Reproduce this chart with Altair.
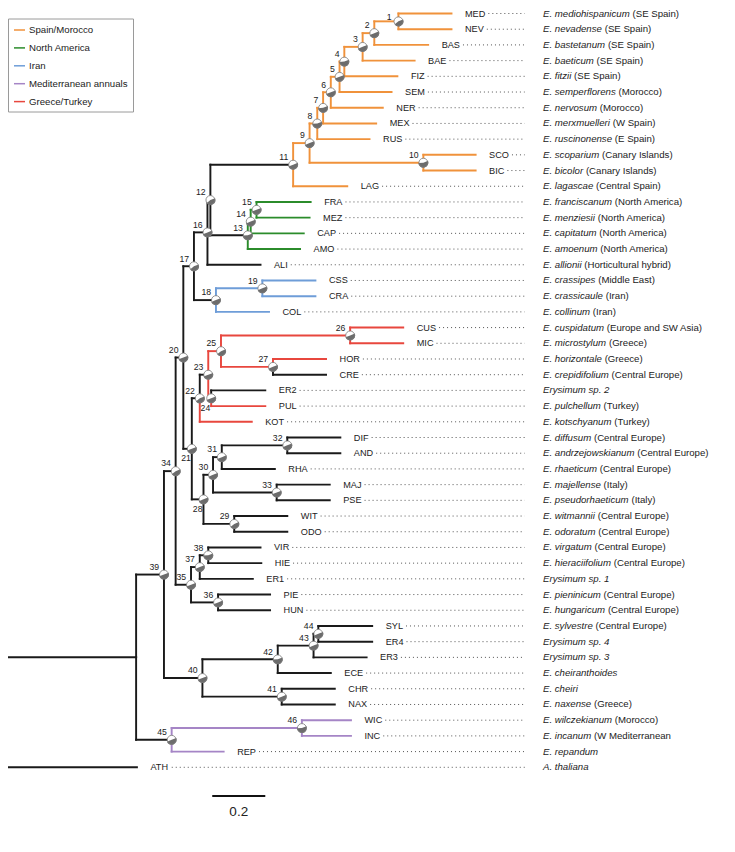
import math
import altair as alt
import pandas as pd

# ---------------- data ----------------
tip_codes = ["MED", "NEV", "BAS", "BAE", "FIZ", "SEM", "NER", "MEX", "RUS", "SCO", "BIC", "LAG",
             "FRA", "MEZ", "CAP", "AMO", "ALI", "CSS", "CRA", "COL", "CUS", "MIC", "HOR", "CRE",
             "ER2", "PUL", "KOT", "DIF", "AND", "RHA", "MAJ", "PSE", "WIT", "ODO", "VIR", "HIE",
             "ER1", "PIE", "HUN", "SYL", "ER4", "ER3", "ECE", "CHR", "NAX", "WIC", "INC", "REP", "ATH"]

# root-to-tip distance (substitutions/site)
tip_depth = [1.684, 1.684, 1.596, 1.545, 1.480, 1.458, 1.425, 1.400, 1.375, 1.775, 1.775, 1.291,
             1.153, 1.149, 1.127, 1.113, 0.964, 1.171, 1.171, 0.996, 1.502, 1.502, 1.211, 1.211,
             0.982, 0.982, 0.931, 1.265, 1.265, 1.018, 1.225, 1.225, 1.065, 1.065, 0.964, 0.967,
             0.935, 1.000, 1.000, 1.385, 1.385, 1.364, 1.229, 1.244, 1.244, 1.305, 1.305, 0.825, 0.498]

species_italic = ["E. mediohispanicum", "E. nevadense", "E. bastetanum", "E. baeticum", "E. fitzii",
                  "E. semperflorens", "E. nervosum", "E. merxmuelleri", "E. ruscinonense", "E. scoparium",
                  "E. bicolor", "E. lagascae", "E. franciscanum", "E. menziesii", "E. capitatum",
                  "E. amoenum", "E. allionii", "E. crassipes", "E. crassicaule", "E. collinum",
                  "E. cuspidatum", "E. microstylum", "E. horizontale", "E. crepidifolium", "Erysimum sp. 2",
                  "E. pulchellum", "E. kotschyanum", "E. diffusum", "E. andrzejowskianum", "E. rhaeticum",
                  "E. majellense", "E. pseudorhaeticum", "E. witmannii", "E. odoratum", "E. virgatum",
                  "E. hieraciifolium", "Erysimum sp. 1", "E. pieninicum", "E. hungaricum", "E. sylvestre",
                  "Erysimum sp. 4", "Erysimum sp. 3", "E. cheiranthoides", "E. cheiri", "E. naxense",
                  "E. wilczekianum", "E. incanum", "E. repandum", "A. thaliana"]

species_plain = ["(SE Spain)", "(SE Spain)", "(SE Spain)", "(SE Spain)", "(SE Spain)",
                 "(Morocco)", "(Morocco)", "(W Spain)", "(E Spain)", "(Canary Islands)",
                 "(Canary Islands)", "(Central Spain)", "(North America)", "(North America)", "(North America)",
                 "(North America)", "(Horticultural hybrid)", "(Middle East)", "(Iran)", "(Iran)",
                 "(Europe and SW Asia)", "(Greece)", "(Greece)", "(Central Europe)", "",
                 "(Turkey)", "(Turkey)", "(Central Europe)", "(Central Europe)", "(Central Europe)",
                 "(Italy)", "(Italy)", "(Central Europe)", "(Central Europe)", "(Central Europe)",
                 "(Central Europe)", "", "(Central Europe)", "(Central Europe)", "(Central Europe)",
                 "", "", "", "", "(Greece)",
                 "(Morocco)", "(W Mediterranean", "", ""]

# internal nodes: id, root distance
node_ids = ["R", "N0", "39", "34", "20", "17", "16", "12", "11", "9", "8", "7", "6", "5", "4", "3",
            "2", "1", "10", "13", "14", "15", "18", "19", "21", "22", "23", "24", "25", "26", "27",
            "28", "29", "30", "31", "32", "33", "35", "36", "37", "38", "40", "41", "42", "43", "44",
            "45", "46"]
node_depth = [0.000, 0.495, 0.600, 0.644, 0.673, 0.713, 0.764, 0.775, 1.087, 1.149, 1.178, 1.200,
              1.229, 1.262, 1.280, 1.349, 1.393, 1.484, 1.578, 0.916, 0.927, 0.949, 0.796, 0.971,
              0.705, 0.735, 0.767, 0.778, 0.815, 1.302, 1.011, 0.749, 0.865, 0.785, 0.818, 1.065,
              1.025, 0.702, 0.804, 0.735, 0.767, 0.745, 1.044, 1.029, 1.164, 1.182, 0.629, 1.120]

# topology: children listed top to bottom
children = {
    "R": ["N0", "ATH"], "N0": ["39", "45"], "39": ["34", "40"], "34": ["20", "35"],
    "20": ["17", "21"], "17": ["16", "18"], "16": ["12", "ALI"], "12": ["11", "13"],
    "11": ["9", "LAG"], "9": ["8", "10"], "8": ["7", "RUS"], "7": ["6", "MEX"],
    "6": ["5", "NER"], "5": ["4", "SEM"], "4": ["3", "FIZ"], "3": ["2", "BAE"],
    "2": ["1", "BAS"], "1": ["MED", "NEV"], "10": ["SCO", "BIC"],
    "13": ["14", "AMO"], "14": ["15", "CAP"], "15": ["FRA", "MEZ"],
    "18": ["19", "COL"], "19": ["CSS", "CRA"],
    "21": ["22", "28"], "22": ["23", "KOT"], "23": ["25", "24"], "25": ["26", "27"],
    "26": ["CUS", "MIC"], "27": ["HOR", "CRE"], "24": ["ER2", "PUL"],
    "28": ["30", "29"], "30": ["31", "33"], "31": ["32", "RHA"], "32": ["DIF", "AND"],
    "33": ["MAJ", "PSE"], "29": ["WIT", "ODO"],
    "35": ["37", "36"], "37": ["38", "ER1"], "38": ["VIR", "HIE"], "36": ["PIE", "HUN"],
    "40": ["42", "41"], "42": ["43", "ECE"], "43": ["44", "ER3"], "44": ["SYL", "ER4"],
    "41": ["CHR", "NAX"], "45": ["46", "REP"], "46": ["WIC", "INC"],
}

# numbered nodes with their pie (fraction shaded grey)
pie_nodes = [str(i) for i in range(1, 47)]
pie_grey = [0.45, 0.50, 0.50, 0.55, 0.50, 0.50, 0.55, 0.55, 0.50, 0.55, 0.50, 0.45, 0.55, 0.50,
            0.50, 0.50, 0.45, 0.50, 0.50, 0.50, 0.50, 0.45, 0.50, 0.50, 0.45, 0.50, 0.50, 0.50,
            0.45, 0.50, 0.50, 0.50, 0.50, 0.45, 0.50, 0.50, 0.50, 0.55, 0.50, 0.50, 0.50, 0.55,
            0.50, 0.50, 0.50, 0.55]
labels_below = ["21", "24", "28"]
labels_left = ["1"]

region_names = ["Spain/Morocco", "North America", "Iran", "Mediterranean annuals", "Greece/Turkey"]
region_colors = ["#F0923B", "#2B8C2B", "#6E9DD8", "#A585C6", "#E8473E"]
region_edges = {
    "Spain/Morocco": ["9", "LAG", "8", "10", "7", "RUS", "6", "MEX", "5", "NER", "4", "SEM", "3",
                      "FIZ", "2", "BAE", "1", "BAS", "MED", "NEV", "SCO", "BIC"],
    "North America": ["14", "AMO", "15", "CAP", "FRA", "MEZ"],
    "Iran": ["19", "COL", "CSS", "CRA"],
    "Mediterranean annuals": ["46", "REP", "WIC", "INC"],
    "Greece/Turkey": ["25", "24", "26", "27", "CUS", "MIC", "HOR", "PUL", "KOT"],
}

scale_bar_start = [0.782]
scale_bar_length = [0.2]
scale_bar_text = ["0.2"]

# ---------------- layout helpers ----------------
S = 0.9645                 # reference measured at 1/S scale
PX_ROOT = 5.0              # root x (measurement space)
PX_PER_UNIT = 275.0        # px per unit (measurement space)
W, H = 719, 836
Y_FIRST = 13.5             # page y of first tip
Y_LAST = 767.3             # page y of last tip
ROW = (Y_LAST - Y_FIRST) / (len(tip_codes) - 1)
FONT = "Liberation Sans"


def u(px_meas):
    return (px_meas - PX_ROOT) / PX_PER_UNIT


def yi(page_y):
    return (page_y - Y_FIRST) / ROW


AW = {" ": 278, ".": 278, "(": 333, ")": 333, ",": 278, "-": 333, "/": 278,
      "A": 667, "B": 667, "C": 722, "D": 722, "E": 667, "F": 611, "G": 778, "H": 722, "I": 278,
      "J": 500, "K": 667, "L": 556, "M": 833, "N": 722, "O": 778, "P": 667, "Q": 778, "R": 722,
      "S": 667, "T": 611, "U": 722, "V": 667, "W": 944, "X": 667, "Y": 667, "Z": 611,
      "a": 556, "b": 556, "c": 500, "d": 556, "e": 556, "f": 278, "g": 556, "h": 556, "i": 222,
      "j": 222, "k": 500, "l": 222, "m": 833, "n": 556, "o": 556, "p": 556, "q": 556, "r": 333,
      "s": 500, "t": 278, "u": 556, "v": 500, "w": 722, "x": 500, "y": 500, "z": 500}


def tw(s, size):
    return sum(AW.get(c, 556) for c in s) * size / 1000.0


FS_TIP = 9.5 * S
FS_SP = 10 * S
FS_NODE = 9 * S

depth = dict(zip(node_ids, node_depth))
depth.update(dict(zip(tip_codes, tip_depth)))
ypos = {c: i for i, c in enumerate(tip_codes)}


def gety(n):
    if n in ypos:
        return ypos[n]
    ys_ = [gety(c) for c in children[n]]
    ypos[n] = (ys_[0] + ys_[-1]) / 2.0
    return ypos[n]


gety("R")

region_of = {}
for r, members in region_edges.items():
    for m in members:
        region_of[m] = r

seg_rows = []
for p, chs in children.items():
    for c in chs:
        reg = region_of.get(c, "none")
        seg_rows.append(dict(x=depth[p], x2=depth[p], y=ypos[p], y2=ypos[c], region=reg))
        seg_rows.append(dict(x=depth[p], x2=depth[c], y=ypos[c], y2=ypos[c], region=reg))
seg_rows.append(dict(x=-0.03, x2=0.0, y=ypos["R"], y2=ypos["R"], region="none"))
seg = pd.DataFrame(seg_rows)
seg["order"] = (seg["region"] != "none").astype(int)
seg = seg.sort_values("order")

START = 1.2
pies = pd.DataFrame({
    "node": pie_nodes,
    "x": [depth[n] for n in pie_nodes],
    "y": [ypos[n] for n in pie_nodes],
    "t0": [START] * len(pie_nodes),
    "t1": [START + g * 2 * math.pi for g in pie_grey],
    "pos": ["below" if n in labels_below else ("left" if n in labels_left else "above")
            for n in pie_nodes],
})

tips = pd.DataFrame({
    "code": tip_codes,
    "x": tip_depth,
    "y": list(range(len(tip_codes))),
    "it": species_italic,
    "pl": species_plain,
})
tips["dot0"] = [d + (14 + (tw(c, FS_TIP) + 3) / S) / PX_PER_UNIT for d, c in zip(tip_depth, tip_codes)]
tips["dot1"] = u(544)
tips["sx"] = u(563)
tips["rx"] = [u(563) + tw(s + " ", FS_SP) / S / PX_PER_UNIT for s in species_italic]

bar = pd.DataFrame({
    "x": scale_bar_start,
    "x2": [a + b for a, b in zip(scale_bar_start, scale_bar_length)],
    "xm": [a + b / 2 for a, b in zip(scale_bar_start, scale_bar_length)],
    "y": [yi(796.0)],
    "yt": [yi(812.0)],
    "t": scale_bar_text,
})

# ---------------- scales ----------------
xs = alt.Scale(domain=[u(8 / S), u((8 + W) / S)], nice=False, zero=False)
ys = alt.Scale(domain=[yi(8), yi(8 + H)], nice=False, zero=False, reverse=True)
X = lambda f: alt.X(f, type="quantitative", scale=xs, axis=None)
Y = lambda f: alt.Y(f, type="quantitative", scale=ys, axis=None)

color = alt.Color(
    "region:N",
    scale=alt.Scale(domain=region_names + ["none"], range=region_colors + ["#1a1a1a"]),
    legend=alt.Legend(
        orient="none", legendX=0, legendY=10.5, title=None, values=region_names,
        symbolType="stroke", symbolSize=121, symbolStrokeWidth=1.5, labelFontSize=FS_SP,
        labelFont=FONT, labelColor="#222222", padding=5, strokeColor="#9a9a9a",
        fillColor="white", rowPadding=5.9, labelOffset=3, cornerRadius=0,
    ),
)

SW = 2 * S
edges = alt.Chart(seg).mark_rule(strokeWidth=SW, strokeCap="square").encode(
    x=X("x"), x2="x2", y=Y("y"), y2="y2", color=color
)

R_PIE = 5.2 * S
SIZE_PIE = math.pi * R_PIE * R_PIE
pie_bg = alt.Chart(pies).mark_circle(size=SIZE_PIE, color="white", opacity=1).encode(x=X("x"), y=Y("y"))
pie_wedge = alt.Chart(pies).mark_arc(outerRadius=R_PIE, color="#6c6c6c").encode(
    x=X("x"), y=Y("y"),
    theta=alt.Theta("t0:Q", scale=None, stack=None),
    theta2="t1",
)
pie_ring = alt.Chart(pies).mark_point(shape="circle", size=SIZE_PIE, filled=False, color="#7a7a7a",
                                      strokeWidth=0.8, opacity=1).encode(x=X("x"), y=Y("y"))


def node_labels(pos, dx, dy):
    return alt.Chart(pies).transform_filter(f"datum.pos == '{pos}'").mark_text(
        align="right", baseline="middle", dx=dx, dy=dy, fontSize=FS_NODE, font=FONT, color="#222222"
    ).encode(x=X("x"), y=Y("y"), text="node:N")


lab_above = node_labels("above", -5 * S, -8 * S)
lab_below = node_labels("below", -1 * S, 10 * S)
lab_left = node_labels("left", -7 * S, -4)

tip_lab = alt.Chart(tips).mark_text(
    align="left", baseline="middle", dx=14 * S, fontSize=FS_TIP, font=FONT, color="#222222"
).encode(x=X("x"), y=Y("y"), text="code:N")

dots = alt.Chart(tips).mark_rule(strokeWidth=1, strokeDash=[1, 3], color="#555555").encode(
    x=X("dot0"), x2="dot1", y=Y("y")
)

sp_it = alt.Chart(tips).mark_text(
    align="left", baseline="middle", fontSize=FS_SP, font=FONT, fontStyle="italic", color="#222222"
).encode(x=X("sx"), y=Y("y"), text="it:N")
sp_pl = alt.Chart(tips).mark_text(
    align="left", baseline="middle", fontSize=FS_SP, font=FONT, color="#222222"
).encode(x=X("rx"), y=Y("y"), text="pl:N")

bar_rule = alt.Chart(bar).mark_rule(strokeWidth=SW, color="#111111").encode(
    x=X("x"), x2="x2", y=Y("y")
)
bar_text = alt.Chart(bar).mark_text(
    align="center", baseline="middle", fontSize=14 * S, font=FONT, color="#222222"
).encode(x=X("xm"), y=Y("yt"), text="t:N")

chart = alt.layer(
    dots, edges, pie_bg, pie_wedge, pie_ring, lab_above, lab_below, lab_left, tip_lab, sp_it, sp_pl,
    bar_rule, bar_text
).properties(
    width=W, height=H, padding=0, autosize=alt.AutoSizeParams(type="none")
).configure_view(stroke=None)

chart.save("out.html", embed_options={"renderer": "svg", "actions": False})
